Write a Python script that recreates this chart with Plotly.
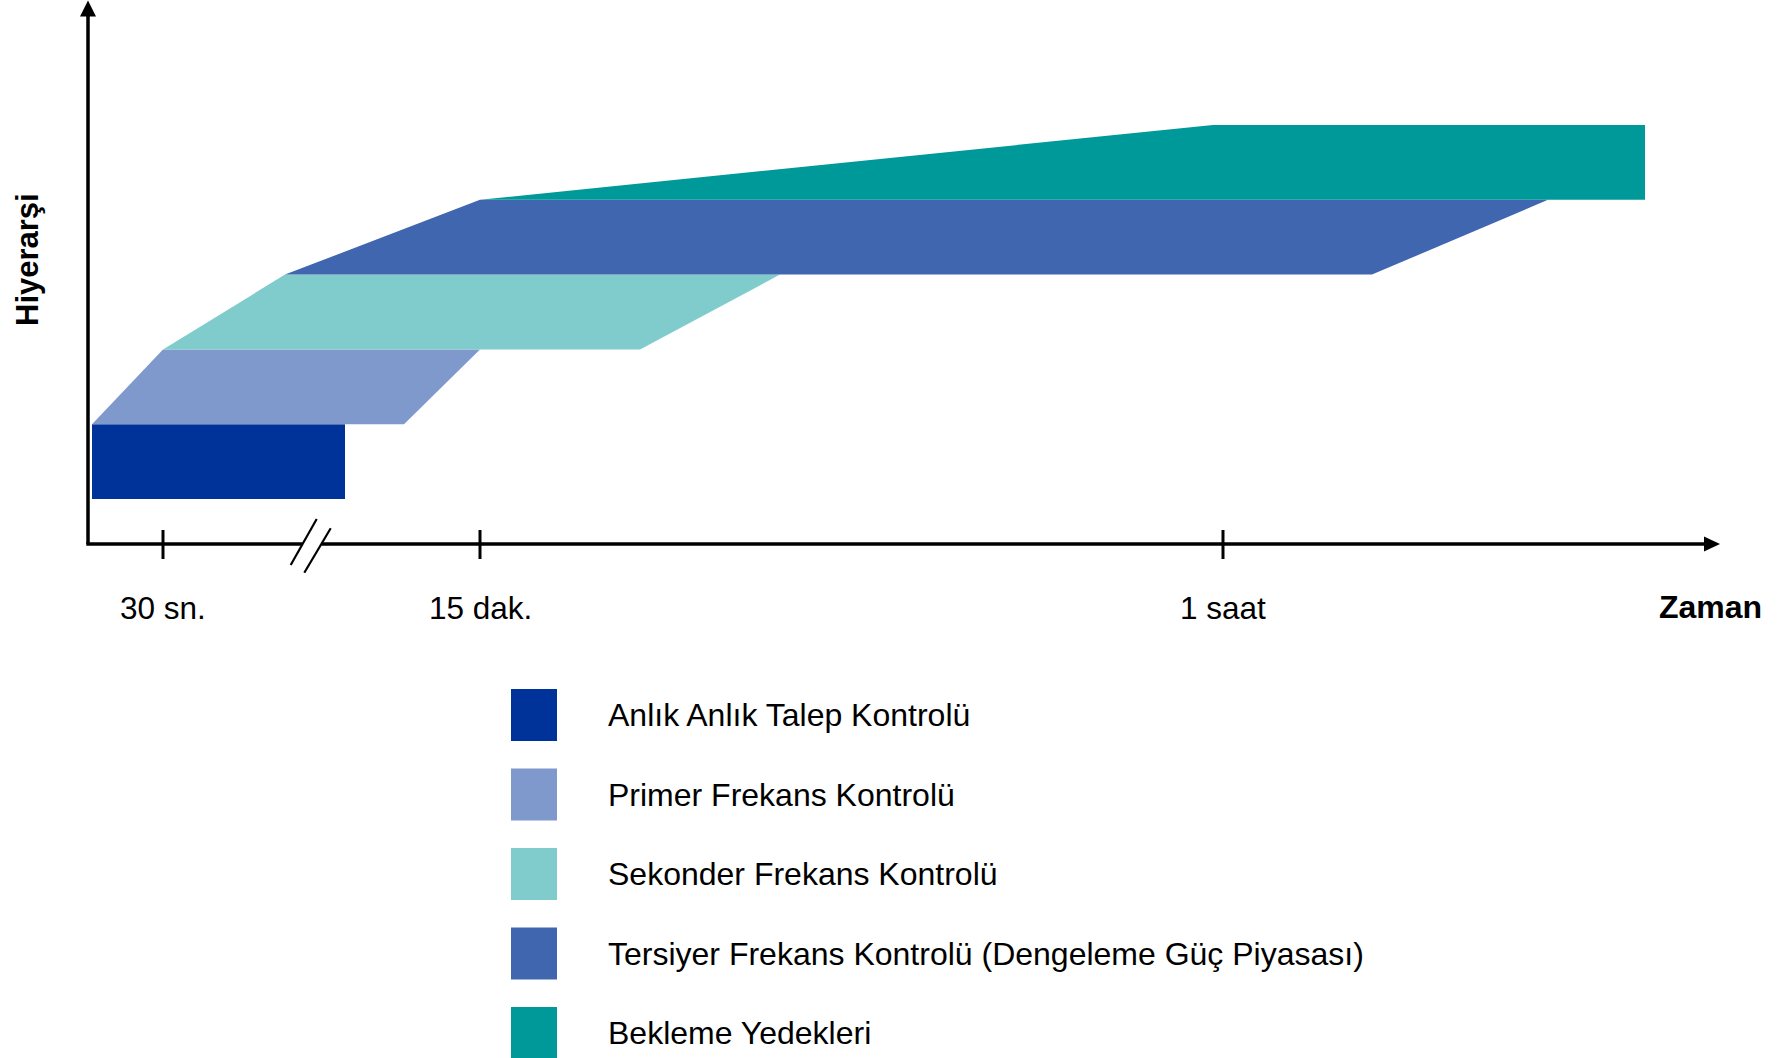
import plotly.graph_objects as go

# ---------------- data (schematic time positions / hierarchy levels) ----------------
categories = [
    "Anlık Anlık Talep Kontrolü",
    "Primer Frekans Kontrolü",
    "Sekonder Frekans Kontrolü",
    "Tersiyer Frekans Kontrolü (Dengeleme Güç Piyasası)",
    "Bekleme Yedekleri",
]
colors = ["#003399", "#7F99CC", "#80CCCC", "#4066B0", "#009999"]
levels = [0, 1, 2, 3, 4]                      # hierarchy band (bottom level)
start_bottom = [4, 4, 75, 197, 392]           # time position where band starts (bottom edge)
start_top = [4, 75, 197, 392, 1125]           # time position where band starts (top edge)
end_bottom = [257, 316, 552, 1284, 1557]      # time position where band ends (bottom edge)
end_top = [257, 392, 692, 1460, 1557]         # time position where band ends (top edge)

tick_positions = [75, 392, 1135]
tick_labels = ["30 sn.", "15 dak.", "1 saat"]
x_title = "Zaman"
y_title = "Hiyerarşi"

# ---------------- layout geometry ----------------
W, H = 1790, 1058
X0_PX = 88            # pixel of time origin
BASE_PX = 499         # pixel of level 0
PX_PER_LEVEL = 74.8
FONT = "Liberation Sans, Arial, sans-serif"


def ypx(p):
    return (BASE_PX - p) / PX_PER_LEVEL


def xpx(p):
    return p - X0_PX


fig = go.Figure()

for i, name in enumerate(categories):
    lv = levels[i]
    fig.add_trace(go.Scatter(
        x=[start_bottom[i], end_bottom[i], end_top[i], start_top[i], start_bottom[i]],
        y=[lv, lv, lv + 1, lv + 1, lv],
        mode="lines", fill="toself", fillcolor=colors[i],
        line=dict(width=0, color=colors[i]), name=name, showlegend=False,
        hoverinfo="name",
    ))

shapes = []
annotations = []
AX_W = 3.5
axis_y = ypx(544)

# y axis
shapes.append(dict(type="line", x0=0, x1=0, y0=axis_y, y1=ypx(14),
                   line=dict(color="black", width=AX_W)))
shapes.append(dict(type="path",
                   path=f"M {-8} {ypx(16.5)} L 0 {ypx(0.5)} L 8 {ypx(16.5)} Z",
                   fillcolor="black", line=dict(color="black", width=0)))
# x axis (with break)
shapes.append(dict(type="line", x0=-1.7, x1=xpx(302.6), y0=axis_y, y1=axis_y,
                   line=dict(color="black", width=AX_W)))
shapes.append(dict(type="line", x0=xpx(321.4), x1=xpx(1706), y0=axis_y, y1=axis_y,
                   line=dict(color="black", width=AX_W)))
shapes.append(dict(type="path",
                   path=f"M {xpx(1704)} {ypx(536.5)} L {xpx(1720)} {axis_y} L {xpx(1704)} {ypx(551.5)} Z",
                   fillcolor="black", line=dict(color="black", width=0)))
# break slashes
shapes.append(dict(type="line", x0=xpx(290.7), y0=ypx(565), x1=xpx(316.7), y1=ypx(519),
                   line=dict(color="black", width=2.2)))
shapes.append(dict(type="line", x0=xpx(304.3), y0=ypx(572.7), x1=xpx(330.7), y1=ypx(528.3),
                   line=dict(color="black", width=2.2)))

# ticks + labels
for tx, tl in zip(tick_positions, tick_labels):
    shapes.append(dict(type="line", x0=tx, x1=tx, y0=ypx(530), y1=ypx(559),
                       line=dict(color="black", width=3)))
    annotations.append(dict(x=tx, y=ypx(608), text=tl, showarrow=False,
                            xanchor="center", yanchor="middle",
                            font=dict(family=FONT, size=31.5, color="black")))

annotations.append(dict(x=xpx(1710), y=ypx(607), text=f"<b>{x_title}</b>", showarrow=False,
                        xanchor="center", yanchor="middle",
                        font=dict(family=FONT, size=32, color="black")))
annotations.append(dict(x=xpx(27), y=ypx(260), text=f"<b>{y_title}</b>", showarrow=False,
                        textangle=-90, xanchor="center", yanchor="middle",
                        font=dict(family=FONT, size=31, color="black")))

# custom legend
for i, name in enumerate(categories):
    top = 689 + 79.5 * i
    shapes.append(dict(type="rect", x0=xpx(511), x1=xpx(557), y0=ypx(top), y1=ypx(top + 52),
                       fillcolor=colors[i], line=dict(width=0)))
    annotations.append(dict(x=xpx(606), y=ypx(top + 26), text=name, showarrow=False,
                            xanchor="left", yanchor="middle",
                            font=dict(family=FONT, size=32, color="black")))

fig.update_layout(
    width=W, height=H,
    margin=dict(l=0, r=0, t=0, b=0, pad=0),
    paper_bgcolor="white", plot_bgcolor="white",
    xaxis=dict(range=[xpx(0), xpx(W)], visible=False, fixedrange=True),
    yaxis=dict(range=[ypx(H), ypx(0)], visible=False, fixedrange=True),
    shapes=shapes, annotations=annotations, showlegend=False,
)

fig.write_html(
    "out.html",
    config={"displayModeBar": False},
    post_script="document.body.style.margin='0px';"
                "document.documentElement.style.overflow='hidden';",
)
